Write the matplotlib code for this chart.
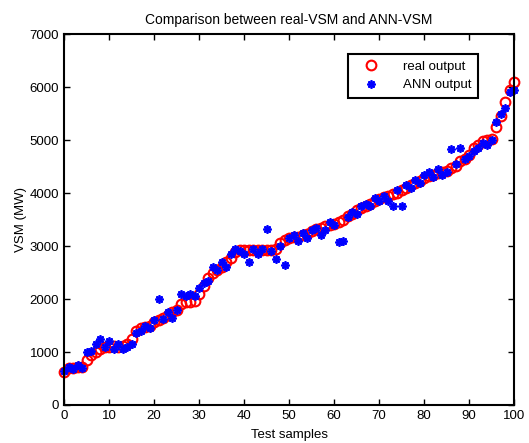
import matplotlib
matplotlib.use("Agg")
import matplotlib.pyplot as plt
import numpy as np

plt.rcParams['font.family'] = ['Liberation Sans', 'DejaVu Sans']

samples = list(range(0, 101))
real_output = [620, 700, 700, 720, 720, 850, 950, 1000, 1050, 1100,
               1100, 1120, 1100, 1120, 1150, 1250, 1400, 1450, 1470, 1500,
               1560, 1600, 1650, 1700, 1750, 1800, 1900, 1950, 1950, 1960,
               2100, 2250, 2400, 2500, 2550, 2600, 2700, 2780, 2880, 2920,
               2920, 2920, 2930, 2920, 2920, 2930, 2930, 2950, 3050, 3120,
               3150, 3180, 3180, 3200, 3220, 3280, 3320, 3350, 3380, 3400,
               3420, 3460, 3500, 3560, 3600, 3680, 3720, 3760, 3800, 3850,
               3880, 3920, 3950, 3980, 4000, 4050, 4100, 4150, 4200, 4230,
               4280, 4320, 4350, 4380, 4400, 4420, 4480, 4520, 4600, 4650,
               4720, 4850, 4900, 4980, 5000, 5020, 5250, 5450, 5720, 5950,
               6100]
ann_output = [650, 720, 680, 750, 700, 1000, 1020, 1150, 1250, 1100,
              1200, 1050, 1150, 1050, 1100, 1150, 1350, 1400, 1500, 1450,
              1600, 2000, 1620, 1750, 1650, 1800, 2100, 2050, 2100, 2050,
              2200, 2300, 2350, 2600, 2550, 2700, 2600, 2850, 2950, 2900,
              2850, 2700, 2950, 2850, 2950, 3330, 2900, 2750, 3000, 2650,
              3150, 3200, 3100, 3250, 3150, 3300, 3350, 3200, 3300, 3450,
              3400, 3080, 3100, 3550, 3650, 3600, 3750, 3800, 3750, 3900,
              3850, 3950, 3850, 3750, 4050, 3750, 4150, 4100, 4250, 4200,
              4350, 4400, 4300, 4450, 4350, 4400, 4830, 4550, 4850, 4650,
              4700, 4800, 4850, 4950, 4900, 5000, 5350, 5500, 5600, 5900,
              5950]
x_ticks = [0, 10, 20, 30, 40, 50, 60, 70, 80, 90, 100]
y_ticks = [0, 1000, 2000, 3000, 4000, 5000, 6000, 7000]

fig = plt.figure(figsize=(5.29, 4.43), dpi=100)
ax = fig.add_axes([0.121, 0.0858, 0.851, 0.837])

ax.plot(samples, real_output, linestyle='none', marker='o', markersize=7,
        markerfacecolor='none', markeredgecolor='#ff0000', markeredgewidth=1.5,
        label='real output', clip_on=False)
ax.plot(samples, ann_output, linestyle='none', marker=(8, 2, 0), markersize=6,
        color='#0000ff', markeredgewidth=1.3, label='ANN output', clip_on=False)

ax.set_xlim(0, 100)
ax.set_ylim(0, 7000)
ax.set_xticks(x_ticks)
ax.set_yticks(y_ticks)
ax.tick_params(direction='in', top=True, right=True, labelsize=9.5, length=4, width=1)
for s in ax.spines.values():
    s.set_linewidth(1.5)

ax.set_title('Comparison between real-VSM and ANN-VSM', fontsize=10, pad=7)
ax.set_xlabel('Test samples', fontsize=9.5, labelpad=5)
ax.set_ylabel('VSM (MW)', fontsize=9.5, labelpad=2)

leg = ax.legend(loc='upper right', bbox_to_anchor=(0.935, 0.965), fontsize=9.5,
                fancybox=False, framealpha=1, edgecolor='black',
                borderpad=0.5, handletextpad=1.2, handlelength=2.5)
leg.get_frame().set_linewidth(1.5)

fig.savefig('out.png', dpi=100)
